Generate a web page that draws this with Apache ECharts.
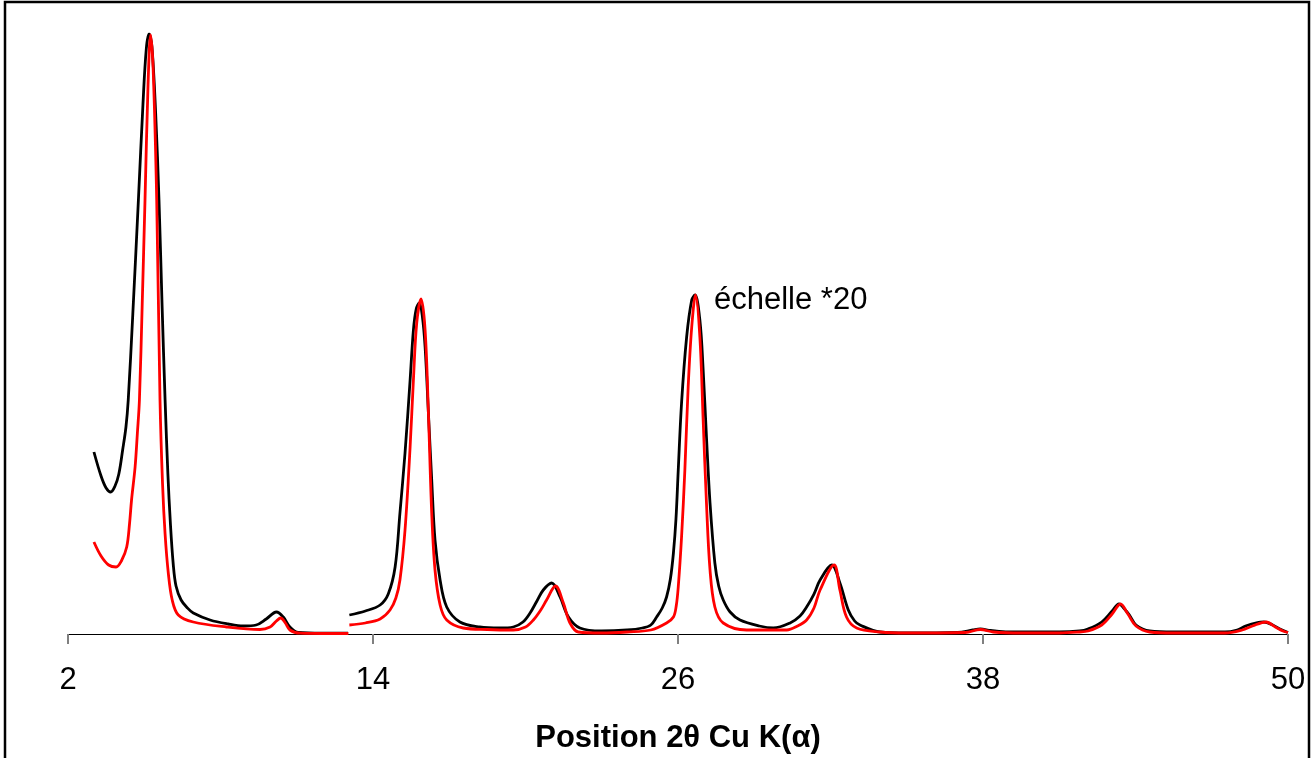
<!DOCTYPE html>
<html>
<head>
<meta charset="utf-8">
<script src="https://cdn.jsdelivr.net/npm/echarts@6/dist/echarts.min.js"></script>
<style>
html,body{margin:0;padding:0;background:#fff;}
#chart{width:1314px;height:758px;}
</style>
</head>
<body>
<div id="chart"></div>
<script>
var xTicks = [2, 14, 26, 38, 50];
var xTitle = 'Position 2\u03b8 Cu K(\u03b1)';
var annotation = '\u00e9chelle *20';

// Segment 1 (raw scale), black sample
var blackSeg1 = [
  [3.02,182],[3.3,158],[3.5,146],[3.68,142],[3.85,148],[4.0,160],[4.15,184],[4.28,207],[4.37,234],
  [4.55,320],[4.77,434],[4.95,530],[5.08,585],[5.19,600],[5.3,588],[5.45,520],[5.58,434],[5.7,330],
  [5.82,234],[5.93,160],[6.03,110],[6.14,70],[6.25,48],[6.45,34],[6.7,26],[6.93,21],[7.59,14],
  [8.3,10],[8.9,8],[9.4,9],[9.8,15],[10.2,22],[10.47,17],[10.73,7],[11.06,1.5],[12,0.8],[13.02,0.8]
];
// Segment 2 (scale x20), black sample
var blackSeg2 = [
  [13.07,19],[13.7,23],[14.28,29],[14.6,40],[14.87,67],[15.06,121],[15.26,181],[15.46,254],[15.59,304],
  [15.7,325],[15.82,331],[15.94,318],[16.05,287],[16.18,221],[16.31,154],[16.44,94],[16.64,54],[16.9,27],
  [17.42,12],[18.2,7],[19.0,6],[19.52,7],[19.9,12],[20.18,21],[20.45,33],[20.7,44],[21.03,51],[21.36,37],
  [21.69,17],[22.14,6],[23,3],[24,4],[24.6,6],[24.93,9],[25.16,17],[25.38,26],[25.55,37],[25.7,55],
  [25.82,81],[25.92,115],[26.01,164],[26.14,231],[26.34,297],[26.54,334],[26.67,339],[26.86,314],
  [26.99,264],[27.12,197],[27.26,131],[27.45,71],[27.6,48],[27.78,34],[28.05,22],[28.44,14],
  [29.2,8],[29.75,6],[30.41,11],[30.8,18],[31.06,27],[31.35,40],[31.59,54],[32.05,69],[32.37,51],
  [32.7,24],[32.95,13],[33.16,9],[33.95,2],[35,1],[37,1.5],[37.6,4],[37.89,5],[38.3,3.5],[39,2],[41,2],
  [41.8,3],[42.13,5],[42.67,12],[43.08,23],[43.35,30],[43.6,24],[43.76,19],[44.02,9],[44.56,3],[45.5,2],
  [47.52,2],[48.0,4],[48.33,8],[48.8,11.5],[49.05,12],[49.4,9],[49.68,5],[50,1.5]
];
// Segment 1 (raw scale), red sample
var redSeg1 = [
  [3.02,92],[3.3,78],[3.6,69],[3.89,67],[4.1,73],[4.31,87],[4.42,110],[4.5,134],[4.64,167],[4.73,201],
  [4.81,234],[4.92,330],[5.03,434],[5.15,550],[5.25,599],[5.35,565],[5.49,434],[5.62,234],[5.72,150],
  [5.82,100],[5.95,60],[6.1,34],[6.34,19],[6.93,12],[8.24,7],[9.55,4.5],[9.95,7],[10.2,13],[10.37,16],
  [10.55,11],[10.73,4],[11.13,0.8],[12,0.5],[13.03,0.5]
];
// Segment 2 (scale x20), red sample
var redSeg2 = [
  [13.07,9],[13.7,11],[14.28,15],[14.67,24],[14.9,36],[15.06,54],[15.26,104],[15.46,187],[15.59,254],
  [15.72,311],[15.89,335],[16.05,304],[16.18,221],[16.31,121],[16.44,64],[16.64,29],[16.9,14],[17.55,6],
  [18.5,4.5],[19.52,4],[20.0,7],[20.31,14],[20.6,24],[20.83,34],[21.18,48],[21.49,31],[21.75,11],
  [22.08,2],[23,1],[24,2],[24.93,4],[25.55,11],[25.82,17],[25.93,28],[26.01,47],[26.14,97],[26.27,164],
  [26.4,247],[26.54,307],[26.69,339],[26.86,297],[26.99,214],[27.12,131],[27.26,64],[27.45,27],
  [27.78,11],[28.7,4],[30.28,4],[30.7,8],[31.06,14],[31.35,26],[31.59,44],[32.14,69],[32.37,44],
  [32.63,17],[33.03,6],[33.95,2],[35,1],[37.3,1.5],[37.89,4.5],[38.4,2],[39.5,1],[41,1],[41.8,2],
  [42.13,3],[42.67,9],[43.08,20],[43.41,30],[43.7,20],[44.02,8],[44.56,2],[45.5,1],[47.52,1],[48.2,4],
  [48.6,8],[49.14,12],[49.5,7],[49.8,3],[50,1.5]
];

var blackData = blackSeg1.concat([[13.05, null]], blackSeg2);
var redData = redSeg1.concat([[13.05, null]], redSeg2);

var chart = echarts.init(document.getElementById('chart'), null, {renderer: 'canvas'});
var FONT = '"Liberation Sans", Arial, sans-serif';
chart.setOption({
  animation: false,
  backgroundColor: '#fff',
  grid: {left: 68, right: 26, top: 34, bottom: 124},
  xAxis: {
    type: 'value', min: 2, max: 50, interval: 12,
    axisLine: {show: true, lineStyle: {color: '#000', width: 1}},
    axisTick: {show: true, inside: false, length: 10, lineStyle: {color: '#808080', width: 2}},
    axisLabel: {color: '#000', fontSize: 31, fontFamily: FONT, margin: 31,
      formatter: function (v) { return xTicks.indexOf(v) >= 0 ? String(v) : ''; }},
    splitLine: {show: false}
  },
  yAxis: {
    type: 'value', min: 0, max: 600, show: false
  },
  series: [
    {type: 'line', data: blackData, showSymbol: false, smooth: 0.35, connectNulls: false,
     lineStyle: {color: '#000', width: 2.8}, itemStyle: {color: '#000'}, z: 2},
    {type: 'line', data: redData, showSymbol: false, smooth: 0.35, connectNulls: false,
     lineStyle: {color: '#ff0000', width: 2.8}, itemStyle: {color: '#ff0000'}, z: 3}
  ],
  graphic: [
    {type: 'rect', shape: {x: 5, y: 2, width: 1304, height: 800},
     style: {fill: 'none', stroke: '#000', lineWidth: 2.5}, z: 10},
    {type: 'text', x: 678, y: 738,
     style: {text: xTitle, fill: '#000', font: 'bold 31px ' + FONT, textAlign: 'center', textVerticalAlign: 'middle'}},
    {type: 'text', x: 714, y: 300,
     style: {text: annotation, fill: '#000', font: '31px ' + FONT, textAlign: 'left', textVerticalAlign: 'middle'}}
  ]
});
</script>
</body>
</html>
